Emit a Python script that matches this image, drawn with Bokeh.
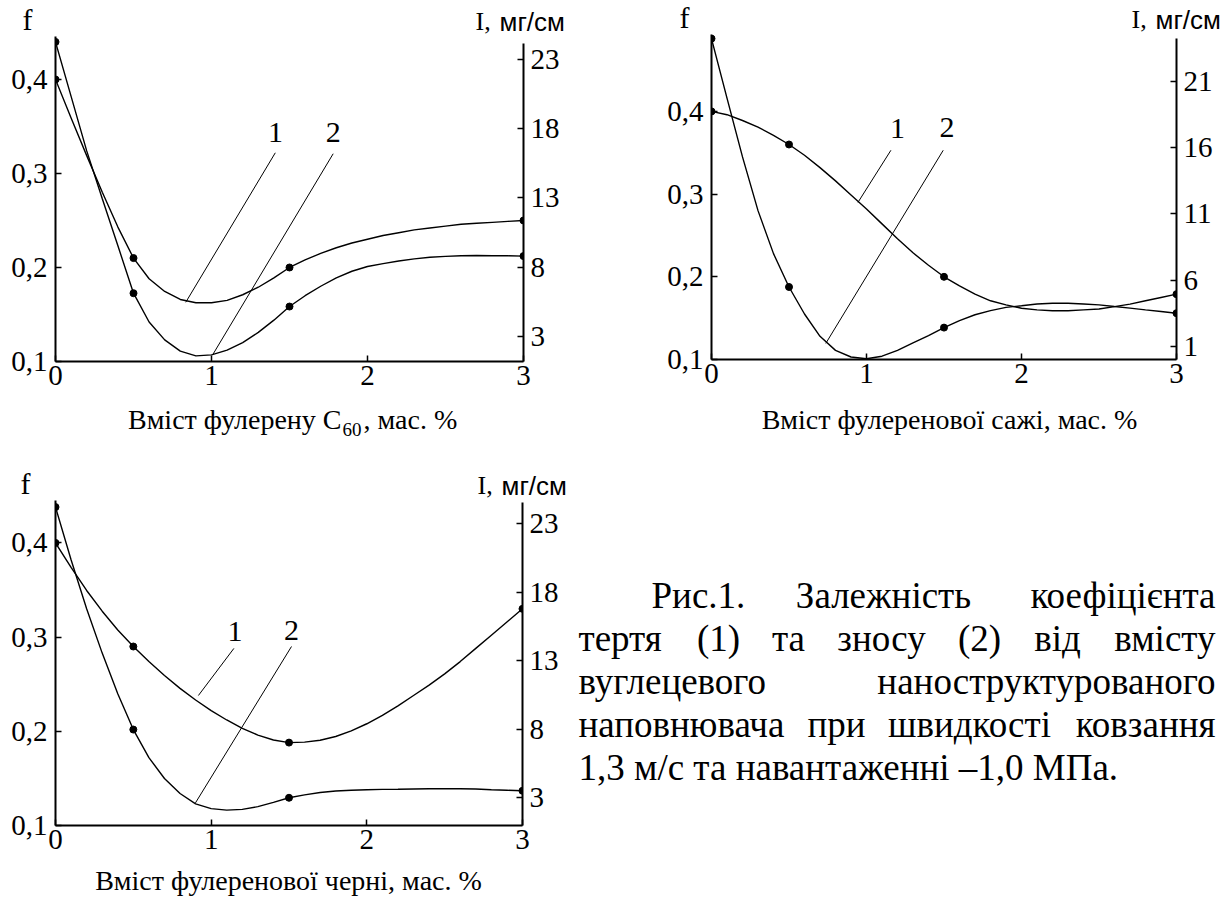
from bokeh.plotting import figure
from bokeh.models import Range1d, LinearAxis, FixedTicker, ColumnDataSource, CustomJSTickFormatter
from bokeh.layouts import row, column
from bokeh.embed import file_html
from bokeh.resources import INLINE
from bokeh.core.properties import value

# ---------------- data ----------------
X = [0.0, 0.1, 0.2, 0.3, 0.4, 0.5, 0.6, 0.7, 0.8, 0.9, 1.0, 1.1, 1.2, 1.3, 1.4, 1.5,
     1.6, 1.7, 1.8, 1.9, 2.0, 2.1, 2.2, 2.3, 2.4, 2.5, 2.6, 2.7, 2.8, 2.9, 3.0]
MARK_X = [0.0, 0.5, 1.5, 3.0]

# panel 1: fullerene C60  (curve 1 = f, curve 2 = I)
P1_F = [0.400, 0.359, 0.319, 0.280, 0.243, 0.210, 0.188, 0.1745, 0.166, 0.1625, 0.1625, 0.165,
        0.171, 0.179, 0.189, 0.200, 0.208, 0.215, 0.221, 0.226, 0.230, 0.234, 0.237, 0.240,
        0.242, 0.244, 0.246, 0.247, 0.248, 0.249, 0.250]
P1_I = [24.23, 20.31, 16.39, 12.94, 9.56, 6.15, 4.08, 2.79, 1.98, 1.64, 1.71, 2.05, 2.59,
        3.33, 4.21, 5.19, 5.97, 6.65, 7.26, 7.73, 8.07, 8.28, 8.47, 8.62, 8.74, 8.80, 8.85,
        8.86, 8.85, 8.84, 8.82]
P1_F_MARK = [0.400, 0.210, 0.200, 0.250]
P1_I_MARK = [24.23, 6.15, 5.19, 8.82]

# panel 2: fullerene soot
P2_F = [0.400, 0.396, 0.389, 0.381, 0.371, 0.360, 0.347, 0.332, 0.316, 0.299, 0.282, 0.264,
        0.246, 0.229, 0.214, 0.200, 0.189, 0.179, 0.171, 0.166, 0.162, 0.160, 0.159, 0.159,
        0.160, 0.161, 0.164, 0.167, 0.171, 0.175, 0.179]
P2_I = [24.25, 19.75, 15.31, 11.25, 8.00, 5.48, 3.44, 1.75, 0.69, 0.19, 0.06, 0.25, 0.69,
        1.25, 1.81, 2.41, 2.94, 3.38, 3.69, 3.94, 4.06, 4.19, 4.25, 4.25, 4.19, 4.13, 4.00,
        3.88, 3.75, 3.63, 3.50]
P2_F_MARK = [0.400, 0.360, 0.200, 0.179]
P2_I_MARK = [24.25, 5.48, 2.41, 3.50]

# panel 3: fullerene black
P3_F = [0.400, 0.374, 0.3495, 0.3275, 0.3075, 0.290, 0.274, 0.2592, 0.2456, 0.2332, 0.222,
        0.212, 0.2032, 0.196, 0.1908, 0.188, 0.1885, 0.1905, 0.1945, 0.2005, 0.208, 0.217,
        0.227, 0.238, 0.249, 0.261, 0.274, 0.288, 0.302, 0.316, 0.330]
P3_I = [24.22, 20.37, 16.80, 13.56, 10.60, 7.98, 5.93, 4.41, 3.31, 2.56, 2.21, 2.10, 2.15,
        2.35, 2.66, 3.00, 3.21, 3.38, 3.49, 3.55, 3.59, 3.61, 3.62, 3.64, 3.66, 3.66, 3.66,
        3.64, 3.59, 3.55, 3.51]
P3_F_MARK = [0.400, 0.290, 0.188, 0.330]
P3_I_MARK = [24.22, 7.98, 3.00, 3.51]

X_TICKS = [0, 1, 2, 3]
F_TICKS = [0.1, 0.2, 0.3, 0.4]
I_TICKS_A = [3, 8, 13, 18, 23]
I_TICKS_B = [1, 6, 11, 16, 21]

CURVE_NUMBERS = ["1", "2"]
F_TITLE = "f"
I_TITLE = ("I,", "мг/см")
X_TITLE_1 = ("Вміст фулерену C", "60", ", мас. %")
X_TITLE_2 = "Вміст фулеренової сажі, мас. %"
X_TITLE_3 = "Вміст фулеренової черні, мас. %"

CAPTION = [
    ["Рис.1.", "Залежність", "коефіцієнта"],
    ["тертя", "(1)", "та", "зносу", "(2)", "від", "вмісту"],
    ["вуглецевого", "наноструктурованого"],
    ["наповнювача", "при", "швидкості", "ковзання"],
    ["1,3 м/с та навантаженні –1,0 МПа."],
]

SERIF = "Liberation Serif, DejaVu Serif"
SANS = "Liberation Sans, DejaVu Sans"
TICK_SIZE = "29px"


def no_align(p):
    try:
        p.frame_align = False
    except Exception:
        pass


def style_axis(ax, standoff):
    ax.axis_line_width = 2
    ax.axis_line_color = "black"
    ax.major_tick_in = 6
    ax.major_tick_out = 0
    ax.major_tick_line_width = 1.5
    ax.major_tick_line_color = "black"
    ax.minor_tick_line_color = None
    ax.major_label_text_font = SERIF
    ax.major_label_text_font_size = TICK_SIZE
    ax.major_label_text_color = "black"
    ax.major_label_standoff = standoff


def strip(w, h, x0, y0):
    s = figure(width=w, height=h, x_range=Range1d(x0, x0 + w), y_range=Range1d(y0 + h, y0),
               output_backend="svg", toolbar_location=None, min_border=0,
               x_axis_location=None, y_axis_location=None)
    s.grid.visible = False
    s.outline_line_color = None
    no_align(s)
    return s


def txt(p, x, yc, s, size, font=SERIF, align="left"):
    # yc = vertical centre of the text box
    p.text([x], [yc], text=[s], text_font=value(font),
           text_font_size=f"{size}px", text_align=align, text_baseline="middle",
           text_color="black")


def make_panel(w, h, bl, br, bt, bb, f_range, i_range, i_bounds, i_ticks,
               f_curve, i_curve, f_mark, i_mark, leaders, num_pos):
    p = figure(width=w, height=h, x_range=Range1d(0, 3), y_range=Range1d(*f_range),
               output_backend="svg", toolbar_location=None,
               min_border_left=bl, min_border_right=br, min_border_top=bt, min_border_bottom=bb)
    no_align(p)
    p.extra_y_ranges = {"I": Range1d(*i_range)}
    p.grid.visible = False
    p.outline_line_color = None

    p.xaxis.ticker = FixedTicker(ticks=X_TICKS)
    p.yaxis.ticker = FixedTicker(ticks=F_TICKS)
    p.yaxis.formatter = CustomJSTickFormatter(code="return tick.toFixed(1).replace('.', ',');")
    style_axis(p.xaxis[0], 4)
    style_axis(p.yaxis[0], 8)
    ax_r = LinearAxis(y_range_name="I", ticker=FixedTicker(ticks=i_ticks), bounds=i_bounds)
    style_axis(ax_r, 7)
    p.add_layout(ax_r, "right")

    p.line(X, f_curve, line_color="black", line_width=1.4)
    p.line(X, i_curve, line_color="black", line_width=1.4, y_range_name="I")
    p.scatter(MARK_X, f_mark, size=7, color="black")
    p.scatter(MARK_X, i_mark, size=7, color="black", y_range_name="I")

    src = ColumnDataSource(dict(x0=[l[0] for l in leaders], y0=[l[1] for l in leaders],
                                x1=[l[2] for l in leaders], y1=[l[3] for l in leaders]))
    p.segment("x0", "y0", "x1", "y1", source=src, line_color="black", line_width=1)
    p.text([q[0] for q in num_pos], [q[1] for q in num_pos], text=CURVE_NUMBERS,
           text_font=value(SERIF), text_font_size="30px", text_align="center",
           text_baseline="middle", text_color="black")
    return p


# ---------------- top-left panel ----------------
s1t = strip(618, 36, 0, 0)
txt(s1t, 27, 19.3, F_TITLE, 30, align="center")
txt(s1t, 475, 21.3, I_TITLE[0], 26)
txt(s1t, 499, 21.3, I_TITLE[1], 26, font=SANS)
p1 = make_panel(618, 364, 55, 95, 0, 39, (0.1, 0.4457), (1.236, 24.62), (1.236, 24.12),
                I_TICKS_A, P1_F, P1_I, P1_F_MARK, P1_I_MARK,
                leaders=[(1.409, 0.322, 0.835, 0.163), (1.78, 0.321, 1.007, 0.107)],
                num_pos=[(1.41, 0.344), (1.78, 0.344)])
s1b = strip(618, 40, 0, 400)
txt(s1b, 341, 418.5, X_TITLE_1[0], 28, align="right")
txt(s1b, 342, 428.5, X_TITLE_1[1], 19)
txt(s1b, 363, 418.5, X_TITLE_1[2], 28)

# ---------------- top-right panel ----------------
s2t = strip(613, 34, 618, 0)
txt(s2t, 684, 17.3, F_TITLE, 30, align="center")
txt(s2t, 1131, 19.3, I_TITLE[0], 26)
txt(s2t, 1155, 19.3, I_TITLE[1], 26, font=SANS)
p2 = make_panel(613, 366, 93, 55, 0, 41, (0.1, 0.493), (0.0, 24.56), (0.0, 24.22),
                I_TICKS_B, P2_F, P2_I, P2_F_MARK, P2_I_MARK,
                leaders=[(1.1575, 0.353, 0.945, 0.290), (1.495, 0.353, 0.7375, 0.1195)],
                num_pos=[(1.20, 0.379), (1.52, 0.381)])
s2b = strip(613, 40, 618, 400)
txt(s2b, 949, 418.5, X_TITLE_2, 28, align="center")

# ---------------- bottom-left panel ----------------
s3t = strip(572, 60, 0, 440)
txt(s3t, 25, 483.3, F_TITLE, 30, align="center")
txt(s3t, 477, 485.3, I_TITLE[0], 26)
txt(s3t, 501, 485.3, I_TITLE[1], 26, font=SANS)
p3 = make_panel(572, 362, 55, 50, 0, 37, (0.1, 0.445), (0.976, 24.70), (0.976, 24.56),
                I_TICKS_A, P3_F, P3_I, P3_F_MARK, P3_I_MARK,
                leaders=[(1.146, 0.288, 0.918, 0.238), (1.516, 0.290, 0.899, 0.124)],
                num_pos=[(1.153, 0.306), (1.516, 0.307)])
s3b = strip(572, 37, 0, 862)
txt(s3b, 288, 879.5, X_TITLE_3, 28, align="center")

# ---------------- caption (justified by hand) ----------------
p4 = strip(659, 459, 572, 440)
LINE_Y = [595.4, 638.4, 681.4, 724.4, 767.4]
LEFT_X = [651, 578, 578, 578, 578]
MID_X = [[883], [718, 788, 881, 979, 1057], [], [836, 969], []]
RIGHT_EDGE = 1215
for words, lx, mids, yc in zip(CAPTION, LEFT_X, MID_X, LINE_Y):
    txt(p4, lx, yc, words[0], 37)
    for w_, mx in zip(words[1:-1], mids):
        txt(p4, mx, yc, w_, 37, align="center")
    if len(words) > 1:
        txt(p4, RIGHT_EDGE, yc, words[-1], 37, align="right")

layout = column(row(column(s1t, p1, s1b), column(s2t, p2, s2b)),
                row(column(s3t, p3, s3b), p4))
open("out.html", "w").write(file_html(layout, INLINE))
